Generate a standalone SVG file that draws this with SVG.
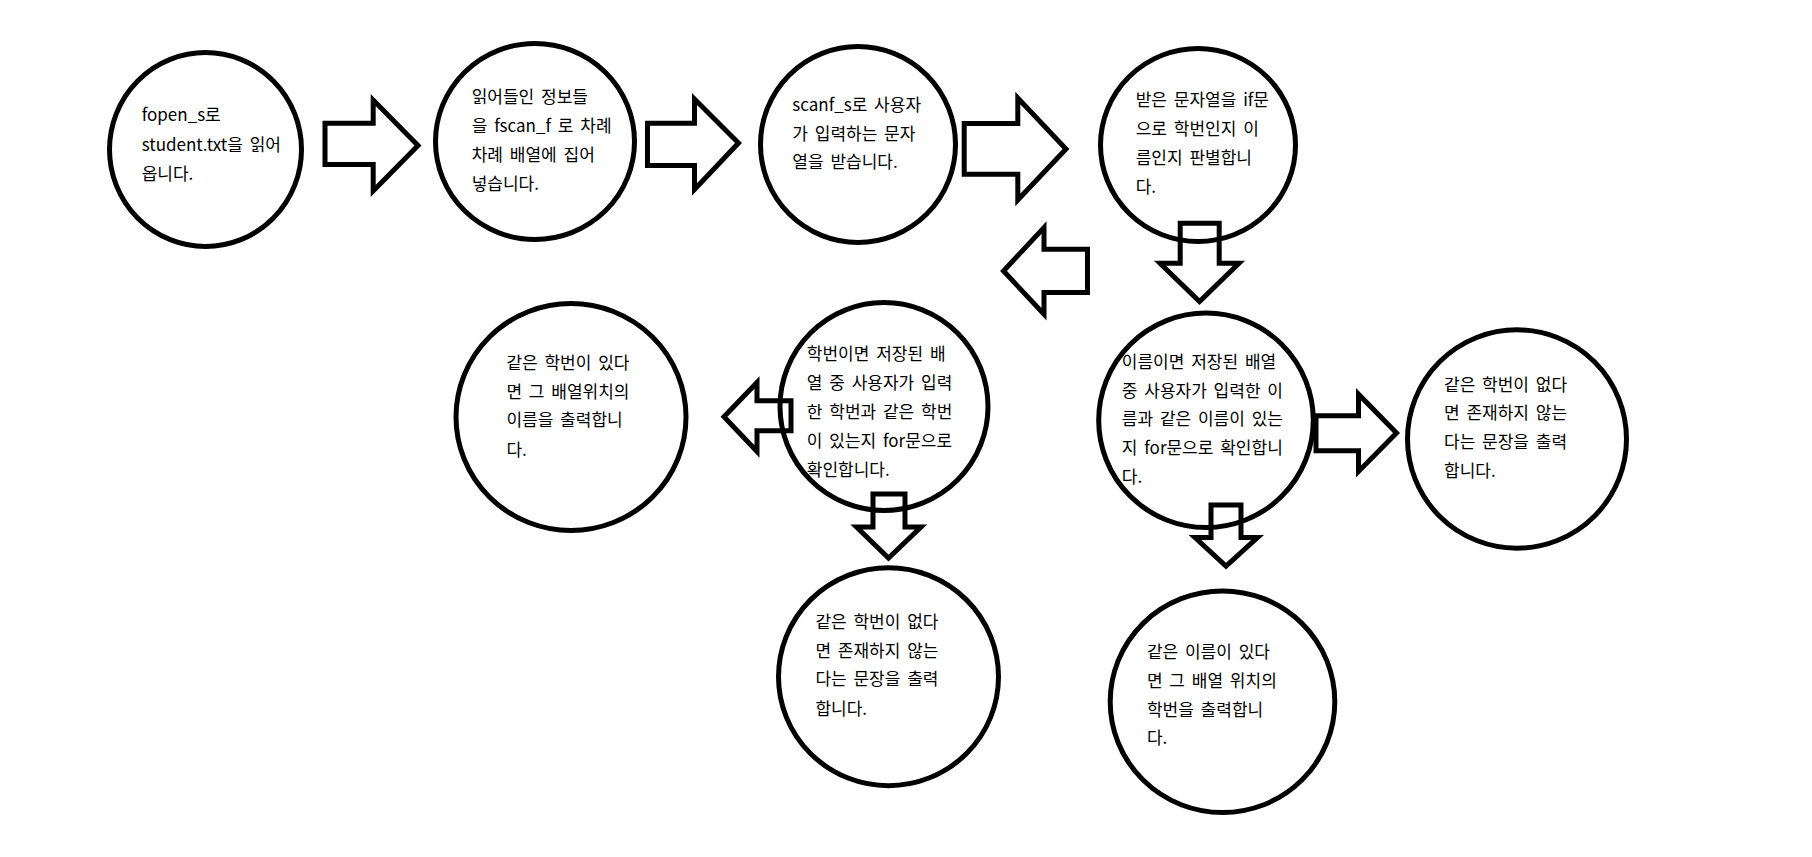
<svg xmlns="http://www.w3.org/2000/svg" width="1812" height="857" viewBox="0 0 1812 857">
<style>
.n{fill:none;stroke:#000;stroke-width:5}
.a{fill:none;stroke:#000;stroke-width:5;stroke-linejoin:miter;stroke-miterlimit:10}
text{font-family:"Noto Sans CJK KR","Malgun Gothic","Noto Sans",sans-serif;font-size:17px;fill:#000;word-spacing:3px}
</style>
<rect width="1812" height="857" fill="#fff"/>
<g id="connectors">
<polygon class="a" points="325,123.2 373.2,123.2 373.2,100 418,145.5 373.2,191 373.2,164.5 325,164.5"/>
<polygon class="a" points="647.5,123.2 694.5,123.2 694.5,99 738.5,143 694.5,189.5 694.5,165.5 647.5,165.5"/>
<polygon class="a" points="964.2,123.5 1017.8,123.5 1017.8,98 1066,149 1017.8,200 1017.8,174.2 964.2,174.2"/>
<polygon class="a" points="1087.5,249.2 1044,249.2 1044,227.5 1003.5,271 1044,314.2 1044,292.5 1087.5,292.5"/>
<polygon class="a" points="1180.2,223.2 1219.2,223.2 1219.2,263.2 1239,263.2 1199.5,301.5 1160,263.2 1180.2,263.2"/>
<polygon class="a" points="791,400.8 757,400.8 757,382.5 724,416.7 757,451.5 757,430.8 791,430.8"/>
<polygon class="a" points="873,494 905,494 905,527 921,527 888.5,558 856.5,527 873,527"/>
<polygon class="a" points="1316,415.8 1358.5,415.8 1358.5,394.2 1396.5,433 1358.5,471.5 1358.5,450.8 1316,450.8"/>
<polygon class="a" points="1211,505 1241,505 1241,537.5 1257.5,537.5 1226,566 1195,537.5 1211,537.5"/>
</g>
<g id="n1">
<ellipse class="n" cx="205.5" cy="149.5" rx="96" ry="97"/>
<text x="141.7" y="121">fopen_s로</text>
<text x="141.7" y="150.5">student.txt을 읽어</text>
<text x="141.7" y="180">옵니다.</text>
</g>
<g id="n2">
<ellipse class="n" cx="535" cy="141.5" rx="99.5" ry="98"/>
<text x="471.7" y="103">읽어들인 정보들</text>
<text x="471.7" y="132">을 fscan_f 로 차례</text>
<text x="471.7" y="161">차례 배열에 집어</text>
<text x="471.7" y="189.5">넣습니다.</text>
</g>
<g id="n3">
<ellipse class="n" cx="858" cy="144.5" rx="97.5" ry="98"/>
<text x="792.3" y="111">scanf_s로 사용자</text>
<text x="792.3" y="139.5">가 입력하는 문자</text>
<text x="792.3" y="168">열을 받습니다.</text>
</g>
<g id="n4">
<ellipse class="n" cx="1198" cy="145" rx="97.5" ry="96.5"/>
<text x="1135.7" y="106">받은 문자열을 if문</text>
<text x="1135.7" y="135">으로 학번인지 이</text>
<text x="1135.7" y="164.3">름인지 판별합니</text>
<text x="1135.7" y="192.7">다.</text>
</g>
<g id="n5">
<ellipse class="n" cx="571" cy="417" rx="115" ry="113.5"/>
<text x="506.4" y="369.3">같은 학번이 있다</text>
<text x="506.4" y="397.7">면 그 배열위치의</text>
<text x="506.4" y="426">이름을 출력합니</text>
<text x="506.4" y="456">다.</text>
</g>
<g id="n6">
<ellipse class="n" cx="884" cy="406.5" rx="104" ry="104"/>
<text x="806.8" y="359.5">학번이면 저장된 배</text>
<text x="806.8" y="388.5">열 중 사용자가 입력</text>
<text x="806.8" y="417.5">한 학번과 같은 학번</text>
<text x="806.8" y="446.5">이 있는지 for문으로</text>
<text x="806.8" y="475.5">확인합니다.</text>
</g>
<g id="n7">
<ellipse class="n" cx="888.5" cy="676.7" rx="110" ry="109"/>
<text x="815.4" y="627.7">같은 학번이 없다</text>
<text x="815.4" y="656.7">면 존재하지 않는</text>
<text x="815.4" y="685.3">다는 문장을 출력</text>
<text x="815.4" y="715">합니다.</text>
</g>
<g id="n8">
<ellipse class="n" cx="1206" cy="420.3" rx="107.3" ry="107.2"/>
<text x="1121.8" y="367.7">이름이면 저장된 배열</text>
<text x="1121.8" y="396.7">중 사용자가 입력한 이</text>
<text x="1121.8" y="425.3">름과 같은 이름이 있는</text>
<text x="1121.8" y="454.3">지 for문으로 확인합니</text>
<text x="1121.8" y="483.3">다.</text>
</g>
<g id="n9">
<ellipse class="n" cx="1517" cy="439" rx="109.5" ry="109.2"/>
<text x="1444" y="391">같은 학번이 없다</text>
<text x="1444" y="419.3">면 존재하지 않는</text>
<text x="1444" y="447.7">다는 문장을 출력</text>
<text x="1444" y="476.7">합니다.</text>
</g>
<g id="n10">
<ellipse class="n" cx="1222.5" cy="701.7" rx="112.3" ry="110.8"/>
<text x="1146.9" y="657.7">같은 이름이 있다</text>
<text x="1146.9" y="687">면 그 배열 위치의</text>
<text x="1146.9" y="716">학번을 출력합니</text>
<text x="1146.9" y="744.3">다.</text>
</g>
</svg>
